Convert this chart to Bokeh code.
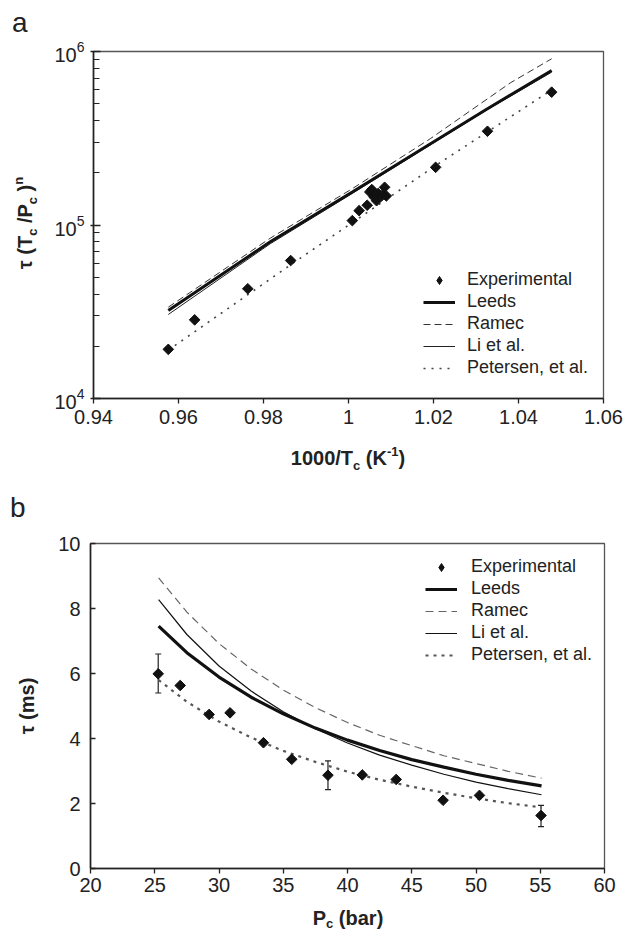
import math
from bokeh.plotting import figure
from bokeh.models import (Legend, LegendItem, FixedTicker, NumeralTickFormatter,
                          ColumnDataSource, Whisker, TeeHead, Range1d, Div)
from bokeh.layouts import column, row
from bokeh.embed import file_html
from bokeh.resources import INLINE

FONT = "Liberation Sans"

# ---------------- Panel a data ----------------
a_exp_x = [0.9576, 0.9638, 0.9763, 0.9864, 1.0009, 1.0025, 1.0044, 1.0050, 1.0055,
           1.0060, 1.0066, 1.0070, 1.0079, 1.0085, 1.0089, 1.0205, 1.0327, 1.0478]
a_exp_y = [1.92e4, 2.84e4, 4.29e4, 6.24e4, 1.06e5, 1.21e5, 1.30e5, 1.55e5, 1.60e5,
           1.45e5, 1.38e5, 1.52e5, 1.48e5, 1.65e5, 1.47e5, 2.15e5, 3.47e5, 5.83e5]
a_leeds_x = [0.9576, 0.9816, 1.0009, 1.0193, 1.0325, 1.0478]
a_leeds_y = [3.22e4, 8.0e4, 1.55e5, 2.94e5, 4.65e5, 7.77e5]
a_ramec_x = [0.9576, 0.9816, 1.0009, 1.0193, 1.0381, 1.0478]
a_ramec_y = [3.36e4, 8.4e4, 1.62e5, 3.15e5, 6.6e5, 9.08e5]
a_li_x = [0.9576, 0.9816, 1.0009, 1.0193, 1.0325, 1.0478]
a_li_y = [3.05e4, 7.8e4, 1.52e5, 2.9e5, 4.6e5, 7.6e5]
a_pet_x = [0.9576, 0.9864, 1.0205, 1.0478]
a_pet_y = [1.9e4, 5.9e4, 2.2e5, 6.0e5]
a_xticks = [0.94, 0.96, 0.98, 1.0, 1.02, 1.04, 1.06]
a_yticks = [1e4, 1e5, 1e6]
a_yminor = [2e4, 3e4, 4e4, 5e4, 6e4, 7e4, 8e4, 9e4,
            2e5, 3e5, 4e5, 5e5, 6e5, 7e5, 8e5, 9e5]

# ---------------- Panel b data ----------------
b_exp_p = [25.27, 26.98, 29.23, 30.86, 33.46, 35.66, 38.48, 41.15, 43.79, 47.44, 50.27, 55.06]
b_exp_t = [5.99, 5.63, 4.74, 4.79, 3.87, 3.36, 2.87, 2.88, 2.74, 2.10, 2.25, 1.63]
b_err_p = [25.27, 38.48, 55.06]
b_err_lo = [5.40, 2.43, 1.29]
b_err_hi = [6.60, 3.31, 1.94]
b_model_p = [25.3, 27.5, 30, 32.5, 35, 37.5, 40, 42.5, 45, 47.5, 50, 52.5, 55.1]
b_leeds = [7.46, 6.64, 5.89, 5.27, 4.76, 4.32, 3.95, 3.63, 3.35, 3.12, 2.90, 2.71, 2.54]
b_ramec = [8.94, 7.89, 6.92, 6.14, 5.49, 4.95, 4.49, 4.10, 3.78, 3.47, 3.23, 2.99, 2.78]
b_li = [8.27, 7.20, 6.23, 5.46, 4.82, 4.30, 3.86, 3.49, 3.18, 2.90, 2.66, 2.46, 2.27]
b_pet = [5.80, 5.13, 4.52, 4.03, 3.62, 3.28, 2.98, 2.73, 2.52, 2.33, 2.16, 2.01, 1.88]
b_xticks = [20, 25, 30, 35, 40, 45, 50, 55, 60]
b_yticks = [0, 2, 4, 6, 8, 10]

legend_names = ["Experimental", "Leeds", "Ramec", "Li et al.", "Petersen, et al."]

SUB = "<span style='font-size:13px;position:relative;top:5px'>{}</span>"
SUB_LOW = "<span style='font-size:13px;position:relative;top:3px'>{}</span>"
SUP = "<span style='font-size:13px;position:relative;top:-9px'>{}</span>"

a_xtitle = "1000/T" + SUB.format("c") + " (K" + SUP.format("-1") + ")"
a_ytitle = "&tau; (T" + SUB.format("c") + " /P" + SUB.format("c") + " )" + SUP.format("n")
b_xtitle = "P" + SUB_LOW.format("c") + " (bar)"
b_ytitle = "&tau; (ms)"


def text_div(w, h, items):
    html = f"<div style='position:relative;width:{w}px;height:{h}px;'>"
    for cx, cy, content, size, bold, rot, anchor in items:
        tr = "translate(-50%,-50%)" if anchor == "center" else "translate(0,-50%)"
        if rot:
            tr += " rotate(-90deg)"
        weight = "bold" if bold else "normal"
        html += (f"<div style='position:absolute;left:{cx}px;top:{cy}px;transform:{tr};"
                 f"white-space:nowrap;font-family:\"{FONT}\";font-size:{size}px;"
                 f"font-weight:{weight};color:#222222;line-height:1;'>{content}</div>")
    html += "</div>"
    return Div(text=html, width=w, height=h, margin=0)


def style(p):
    p.xgrid.visible = False
    p.ygrid.visible = False
    p.outline_line_color = "#555555"
    p.outline_line_width = 1.3
    p.background_fill_color = "white"
    p.border_fill_color = "white"
    for ax in (p.xaxis[0], p.yaxis[0]):
        ax.axis_line_color = "#222222"
        ax.axis_line_width = 1.6
        ax.major_tick_line_color = "#222222"
        ax.major_tick_line_width = 1.3
        ax.minor_tick_line_color = "#222222"
        ax.minor_tick_line_width = 1.1
        ax.major_label_text_font = FONT
        ax.major_label_text_font_size = "20px"
        ax.major_label_text_color = "#222222"
    p.xaxis.major_tick_in = 0
    p.xaxis.major_tick_out = 5
    p.xaxis.minor_tick_in = 0
    p.xaxis.minor_tick_out = 0


def make_legend(rs, loc, standoff):
    return Legend(items=[LegendItem(label=n, renderers=[r]) for n, r in zip(legend_names, rs)],
                  location=loc, border_line_color=None, background_fill_alpha=0,
                  padding=0, margin=0, glyph_width=32, glyph_height=20, label_height=20,
                  spacing=1, label_standoff=standoff, label_text_font=FONT,
                  label_text_font_size="18px", label_text_color="#222222")


# ---------------- Figure a ----------------
fa = figure(width=579, height=396, x_range=Range1d(0.94, 1.06), y_range=Range1d(1e4, 1e6),
            y_axis_type="log", output_backend="svg", toolbar_location=None,
            min_border_left=45, min_border_right=24, min_border_top=15, min_border_bottom=34)
style(fa)
fa.xaxis.ticker = FixedTicker(ticks=a_xticks)
fa.xaxis.formatter = NumeralTickFormatter(format="0.[00]")
fa.xaxis.major_label_standoff = 6
fa.yaxis.ticker = FixedTicker(ticks=a_yticks, minor_ticks=a_yminor)
fa.yaxis.major_tick_in = 7
fa.yaxis.major_tick_out = 3
fa.yaxis.minor_tick_in = 6
fa.yaxis.minor_tick_out = 0
fa.yaxis.major_label_standoff = 6

ra_pet = fa.line(a_pet_x, a_pet_y, line_color="#444444", line_width=1.6, line_dash="2 6")
ra_ramec = fa.line(a_ramec_x, a_ramec_y, line_color="#333333", line_width=1.0, line_dash="7 4")
ra_li = fa.line(a_li_x, a_li_y, line_color="#222222", line_width=1.0)
ra_leeds = fa.line(a_leeds_x, a_leeds_y, line_color="#111111", line_width=3.0)
fa.scatter(a_exp_x, a_exp_y, marker="square", angle=math.pi / 4, size=7.5,
           fill_color="#111111", line_color="#111111")
ra_exp_leg = fa.scatter(a_exp_x, a_exp_y, marker="diamond", size=10, fill_color="#111111",
                        line_color="#111111", visible=False)
fa.add_layout(make_legend([ra_exp_leg, ra_leeds, ra_ramec, ra_li, ra_pet], (330, 20), 12))

# ---------------- Figure b ----------------
fb = figure(width=579, height=374, x_range=Range1d(20, 60), y_range=Range1d(0, 10),
            output_backend="svg", toolbar_location=None,
            min_border_left=42, min_border_right=23, min_border_top=15, min_border_bottom=34)
style(fb)
fb.xaxis.ticker = FixedTicker(ticks=b_xticks)
fb.xaxis.major_label_standoff = 4
fb.yaxis.ticker = FixedTicker(ticks=b_yticks)
fb.yaxis.major_tick_in = 5
fb.yaxis.major_tick_out = 0
fb.yaxis.major_label_standoff = 10

rb_pet = fb.line(b_model_p, b_pet, line_color="#555555", line_width=2.2, line_dash="3 5")
rb_ramec = fb.line(b_model_p, b_ramec, line_color="#666666", line_width=1.2, line_dash="8 5")
rb_li = fb.line(b_model_p, b_li, line_color="#111111", line_width=1.2)
rb_leeds = fb.line(b_model_p, b_leeds, line_color="#111111", line_width=3.2)
src_err = ColumnDataSource(dict(base=b_err_p, lower=b_err_lo, upper=b_err_hi))
fb.add_layout(Whisker(source=src_err, base="base", lower="lower", upper="upper",
                      line_color="#222222", line_width=1.2,
                      upper_head=TeeHead(size=6, line_color="#222222", line_width=1.2),
                      lower_head=TeeHead(size=6, line_color="#222222", line_width=1.2)))
fb.scatter(b_exp_p, b_exp_t, marker="square", angle=math.pi / 4, size=7.5,
           fill_color="#111111", line_color="#111111")
rb_exp_leg = fb.scatter(b_exp_p, b_exp_t, marker="diamond", size=10, fill_color="#111111",
                        line_color="#111111", visible=False)
fb.add_layout(make_legend([rb_exp_leg, rb_leeds, rb_ramec, rb_li, rb_pet], (335, 203), 14))

# ---------------- Text blocks ----------------
div_a = text_div(627, 36, [(12, 22.5, "a", 28, False, False, "left")])
div_ya = text_div(48, 396, [(25, 187, a_ytitle, 20, True, True, "center")])
div_xa = text_div(627, 40, [(348, 26, a_xtitle, 20, True, False, "center")])
div_b = text_div(627, 56, [(10, 36, "b", 28, False, False, "left")])
div_yb = text_div(48, 374, [(27, 178, b_ytitle, 20, True, True, "center")])
div_xb = text_div(627, 33, [(348, 16, b_xtitle, 20, True, False, "center")])

layout = column(div_a, row(div_ya, fa), div_xa, div_b, row(div_yb, fb), div_xb)
open("out.html", "w").write(file_html(layout, INLINE))
